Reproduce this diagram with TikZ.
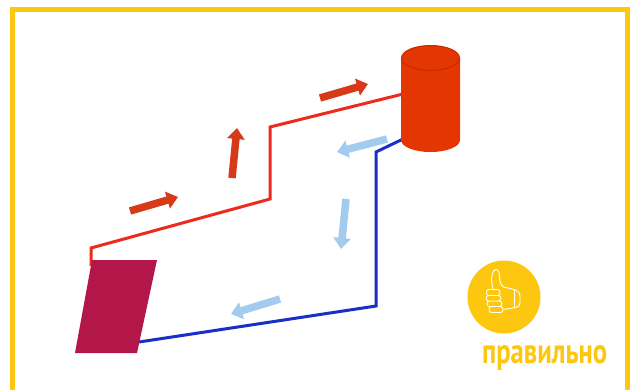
\documentclass[tikz,border=0pt]{standalone}
\usepackage{fontspec}
\usepackage{graphicx}
\usetikzlibrary{arrows.meta}
\newfontfamily\labelfont{PT Sans}
\definecolor{frameyellow}{HTML}{FDC70F}
\definecolor{hotpipe}{HTML}{EC2A1E}
\definecolor{coldpipe}{HTML}{1A2FC8}
\definecolor{hotflow}{HTML}{D63A18}
\definecolor{coldflow}{HTML}{A3CBF0}
\definecolor{panel}{HTML}{B3174A}
\definecolor{tankbody}{HTML}{E33600}
\definecolor{tankedge}{HTML}{C42C00}
\tikzset{
  framebar/.style={frameyellow, line width=5pt},
  hotline/.style={hotpipe, line width=3pt},
  coldline/.style={coldpipe, line width=3pt},
  flowarrow/.style={line width=7.5pt, -{Triangle[width=17pt,length=11pt]}},
  hotarrow/.style={flowarrow, hotflow},
  coldarrow/.style={flowarrow, coldflow},
  icon/.style={white, line width=0.9pt, line join=round, line cap=round},
}
\begin{document}
\begin{tikzpicture}[x=1pt, y=-1pt]
\useasboundingbox (0,0) rectangle (631,389);
\fill[white] (0,0) rectangle (631,389);

% outer frame, open at the bottom
\draw[framebar] (12.5,395) -- (12.5,9.5) -- (627,9.5) -- (627,395);

% pipe corners
\coordinate (hotA) at (91,266);
\coordinate (hotB) at (91,248);
\coordinate (hotC) at (270,199);
\coordinate (hotD) at (270,127);
\coordinate (hotE) at (403,94);
\coordinate (coldA) at (403,139);
\coordinate (coldB) at (376,152);
\coordinate (coldC) at (376,306);
\coordinate (coldD) at (139,342);

% flow pipes
\draw[hotline, line join=miter] (hotA) -- (hotB) -- (hotC) -- (hotD) -- (hotE);
\draw[coldline, line join=miter] (coldA) -- (coldB) -- (coldC) -- (coldD);

% solar collector
\coordinate (panelNW) at (92,260);
\coordinate (panelNE) at (157,260);
\coordinate (panelSE) at (137,353);
\coordinate (panelSW) at (75,353);
\fill[panel] (panelNW) -- (panelNE) -- (panelSE) -- (panelSW) -- cycle;

% storage tank
\coordinate (tankTop) at (430.5,58);
\coordinate (tankBot) at (430.5,140);
\fill[tankbody] (401,58) -- (401,140) arc[start angle=180, end angle=360, x radius=29.5pt, y radius=12pt] -- (460,58) -- cycle;
\filldraw[fill=tankbody, draw=tankedge, line width=1pt] (tankTop) ellipse[x radius=29pt, y radius=12.5pt];

% flow direction arrows
\coordinate (h1s) at (130,211); \coordinate (h1e) at (178,197);
\coordinate (h2s) at (232,178); \coordinate (h2e) at (237,128);
\coordinate (h3s) at (320,98);  \coordinate (h3e) at (368,84);
\draw[hotarrow] (h1s) -- (h1e);
\draw[hotarrow] (h2s) -- (h2e);
\draw[hotarrow] (h3s) -- (h3e);
\coordinate (c1s) at (387,139); \coordinate (c1e) at (337,152);
\coordinate (c2s) at (346,199); \coordinate (c2e) at (341,249);
\coordinate (c3s) at (280,299); \coordinate (c3e) at (231,314);
\draw[coldarrow] (c1s) -- (c1e);
\draw[coldarrow] (c2s) -- (c2e);
\draw[coldarrow] (c3s) -- (c3e);

% approval badge
\node[circle, fill=frameyellow, minimum size=73pt, inner sep=0] (badge) at (504,297) {};
\draw[icon] (493,289) .. controls (491,281) and (491,274) .. (494,270.5)
  .. controls (497,268) and (499.5,271) .. (499.5,276)
  .. controls (499.5,281) and (500.5,285) .. (503.5,287)
  -- (512,289) .. controls (517,290) and (520,292) .. (520,296)
  -- (520,303) .. controls (520,306) and (518,307.5) .. (515,307.5) -- (503,309.5);
\draw[icon] (514,290) -- (514,307.5);
\filldraw[icon, fill=frameyellow, rounded corners=2.6pt] (489,306.5) rectangle (503,312.5);
\filldraw[icon, fill=frameyellow, rounded corners=2.6pt] (487,301) rectangle (502,306.5);
\filldraw[icon, fill=frameyellow, rounded corners=2.6pt] (486,295.5) rectangle (501,301);
\filldraw[icon, fill=frameyellow, rounded corners=2.6pt] (486.5,289.5) rectangle (500,295.5);

\node[anchor=north west, inner sep=0, text=frameyellow] (verdict) at (482,345)
  {\resizebox*{125pt}{25pt}{\labelfont\bfseries правильно}};
\end{tikzpicture}
\end{document}
